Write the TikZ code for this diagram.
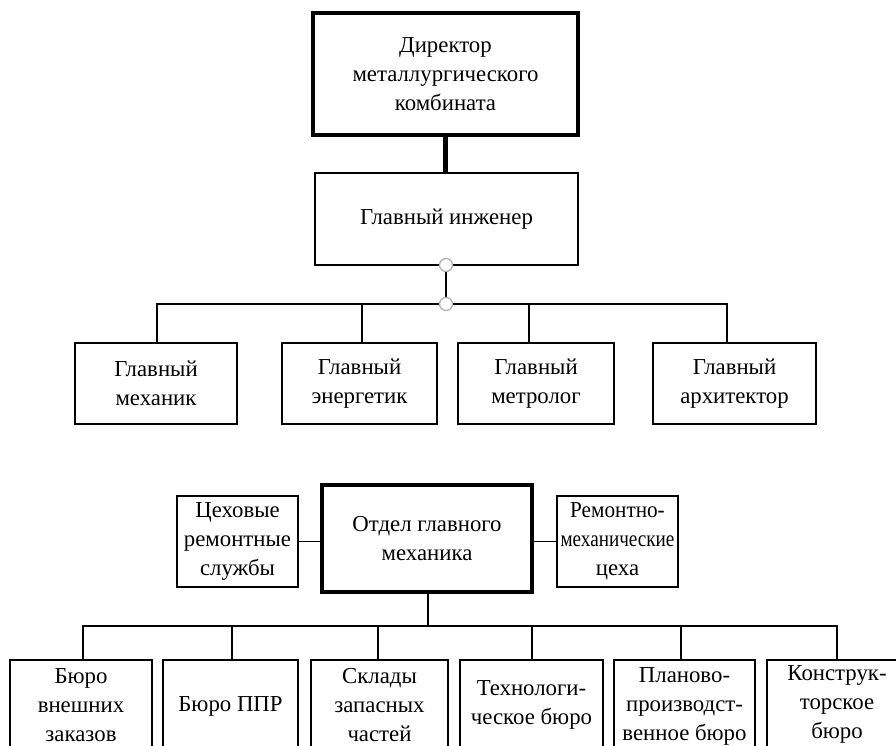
\documentclass[tikz,border=0pt]{standalone}
\usepackage{fontspec}
\setmainfont{Liberation Serif}
\usetikzlibrary{calc}
\newcommand\myfs{\fontsize{22.8}{29}\selectfont}
\tikzset{
  box/.style={draw, line width=1.9pt, inner sep=0pt, outer sep=0pt, align=center, font=\myfs},
  tbox/.style={box, line width=4.2pt},
  lbox/.style={box, text depth=0pt, yshift=0pt},
  ln/.style={line width=1.9pt},
  tln/.style={line width=4.5pt},
  jdot/.style={circle, draw=gray!60, fill=white, line width=1.3pt, minimum size=13pt, inner sep=0pt}
}
\begin{document}
\begin{tikzpicture}[x=1pt,y=-1pt]
\useasboundingbox (0,0) rectangle (896,746);
\clip (0,0) rectangle (896,746);
\fill[white] (0,0) rectangle (896,746);

% top part
\node[tbox, minimum width=265pt, minimum height=122pt] (dir) at (445.5,74) {Директор\\металлургического\\комбината};
\node[box, minimum width=263pt, minimum height=92pt] (eng) at (446.5,219) {Главный инженер};

\node[box, minimum width=162pt, minimum height=81pt] (m1) at (156,383.5) {Главный\\механик};
\node[box, minimum width=155pt, minimum height=81pt] (m2) at (359.5,383.5) {Главный\\энергетик};
\node[box, minimum width=156pt, minimum height=81pt] (m3) at (536,383.5) {Главный\\метролог};
\node[box, minimum width=163pt, minimum height=81pt] (m4) at (734.5,383.5) {Главный\\архитектор};

\coordinate (bus) at (446,304);
\coordinate (d1) at ($(m1.north)+(1,0)$);
\coordinate (d2) at ($(m2.north)+(2.5,0)$);
\coordinate (d3) at ($(m3.north)+(-7,0)$);
\coordinate (d4) at ($(m4.north)+(-7.5,0)$);

\draw[tln] (dir.south) -- (eng.north -| dir.south);
\draw[ln] (d1) |- (bus) -| (d4);
\draw[ln] (d2) -- (d2 |- bus);
\draw[ln] (d3) -- (d3 |- bus);
\draw[ln] (eng.south -| bus) -- (bus);
\node[jdot] (j1) at (eng.south -| bus) {};
\node[jdot] (j2) at (bus) {};

% bottom part
\node[tbox, minimum width=210pt, minimum height=107pt] (omg) at (427,538.5) {Отдел главного\\механика};
\node[box, minimum width=121pt, minimum height=91pt] (lft) at (237.5,541.5) {Цеховые\\ремонтные\\службы};
\node[box, minimum width=121pt, minimum height=91pt] (rgt) at (617.5,541.5) {\scalebox{0.93}[1]{Ремонтно-}\\\scalebox{0.84}[1]{механические}\\цеха};
\draw[ln] (lft.east) -- (lft.east -| omg.west);
\draw[ln] (rgt.west) -- (rgt.west -| omg.east);

\node[box, minimum width=142pt, minimum height=94pt] (b1) at (81,707) {};
\node[box, minimum width=135pt, minimum height=94pt] (b2) at (230.5,707) {};
\node[box, minimum width=137pt, minimum height=94pt] (b3) at (379.5,707) {};
\node[box, minimum width=143pt, minimum height=94pt] (b4) at (531.5,707) {};
\node[box, minimum width=141pt, minimum height=94pt] (b5) at (684.5,707) {};
\node[box, minimum width=140pt, minimum height=94pt] (b6) at (837,707) {};
\node[box, draw=none] (t1) at ($(b1)+(0,-2)$) {Бюро\\внешних\\заказов};
\node[box, draw=none] (t2) at ($(b2)+(0,-1)$) {Бюро ППР};
\node[box, draw=none] (t3) at ($(b3)+(0,-2)$) {Склады\\запасных\\частей};
\node[box, draw=none] (t4) at ($(b4)+(0,-2)$) {Технологи-\\ческое бюро};
\node[box, draw=none] (t5) at ($(b5)+(0,-1)$) {Планово-\\производст-\\венное бюро};
\node[box, draw=none] (t6) at ($(b6)+(0,-3)$) {Конструк-\\торское\\бюро};

\coordinate (bus2) at (428,626);
\coordinate (e1) at ($(b1.north)+(2,0)$);
\coordinate (e2) at ($(b2.north)+(1.5,0)$);
\coordinate (e3) at ($(b3.north)+(-1.5,0)$);
\coordinate (e4) at ($(b4.north)+(0.5,0)$);
\coordinate (e5) at ($(b5.north)+(-3.5,0)$);
\coordinate (e6) at (b6.north);

\draw[ln] (omg.south -| bus2) -- (bus2);
\draw[ln] (e1) |- (bus2) -| (e6);
\foreach \e in {e2,e3,e4,e5} \draw[ln] (\e) -- (\e |- bus2);
\end{tikzpicture}
\end{document}
